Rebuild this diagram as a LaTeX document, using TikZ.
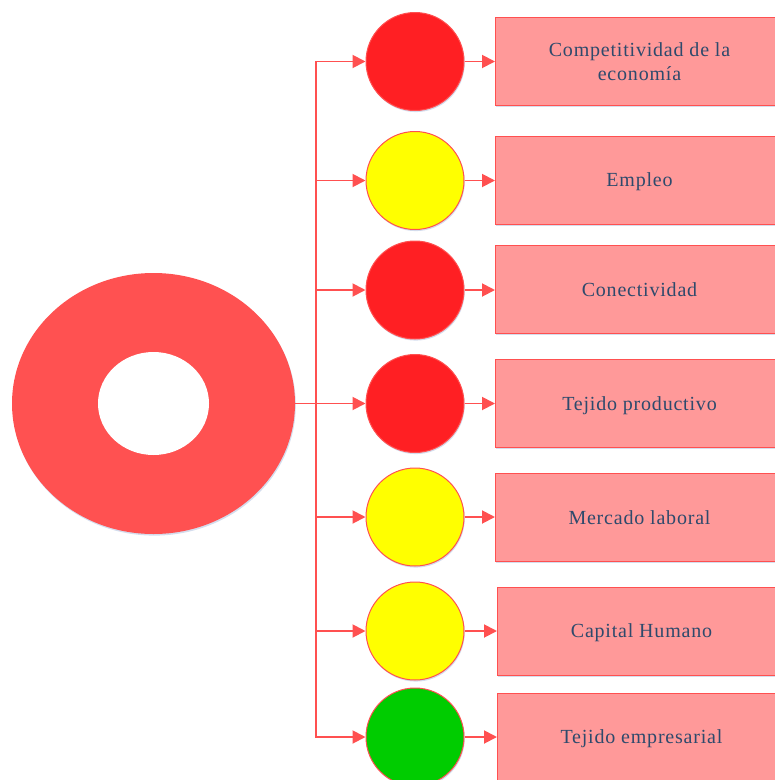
\documentclass[tikz,border=0pt]{standalone}
\usepackage{fontspec}
\setmainfont{Liberation Serif}[LetterSpace=4]
\usetikzlibrary{shapes.geometric,arrows.meta,shadows}
\definecolor{linered}{HTML}{FF5050}
\definecolor{donutred}{HTML}{FF5151}
\definecolor{boxfill}{HTML}{FF9999}
\definecolor{dotred}{HTML}{FF1F23}
\definecolor{dotyellow}{HTML}{FFFF00}
\definecolor{dotgreen}{HTML}{00CC00}
\definecolor{txt}{HTML}{2E4A6C}
\definecolor{shade}{HTML}{9FB4D8}
\tikzset{
  softshadow/.style={drop shadow={shadow xshift=0.8pt, shadow yshift=-1.6pt, fill=shade, opacity=0.45}},
  conn/.style={draw=linered, line width=1.9pt},
  arr/.style={conn, -{Triangle[length=13pt,width=13pt]}},
  dot/.style={circle, draw=linered, line width=1pt, minimum size=98pt, inner sep=0pt, softshadow},
  label box/.style={rectangle, draw=linered, line width=1pt, fill=boxfill, minimum width=288pt, minimum height=88pt, inner sep=0pt, text=txt, font=\fontsize{20}{24}\selectfont, align=center, anchor=west, text depth=0pt, softshadow}
}
\begin{document}
\begin{tikzpicture}[x=1pt,y=-1pt]
\useasboundingbox (0,0) rectangle (775,780);
\clip (0,0) rectangle (775,780);
% donut
\node[ellipse, fill=donutred, minimum width=283pt, minimum height=261pt, inner sep=0pt, softshadow] (donut) at (153.5,403.5) {};
\node[ellipse, fill=white, minimum width=111pt, minimum height=103pt, inner sep=0pt] (hole) at (153.5,403.5) {};
% trunk coordinates
\coordinate (t1) at (316,61.5);
\coordinate (t2) at (316,180.5);
\coordinate (t3) at (316,290);
\coordinate (t4) at (316,403.5);
\coordinate (t5) at (316,517);
\coordinate (t6) at (316,631);
\coordinate (t7) at (316,737);
% circles
\node[dot, fill=dotred] (c1) at (415,61.5) {};
\node[dot, fill=dotyellow] (c2) at (415,180.5) {};
\node[dot, fill=dotred] (c3) at (415,290) {};
\node[dot, fill=dotred] (c4) at (415,403.5) {};
\node[dot, fill=dotyellow] (c5) at (415,517) {};
\node[dot, fill=dotyellow] (c6) at (415,631) {};
\node[dot, fill=dotgreen] (c7) at (415,737) {};
% boxes
\node[label box] (b1) at (495,61.5) {Competitividad de la\\economía};
\node[label box] (b2) at (495,180) {Empleo};
\node[label box] (b3) at (495,289.5) {Conectividad};
\node[label box] (b4) at (495,403.5) {Tejido productivo};
\node[label box] (b5) at (495,517.5) {Mercado laboral};
\node[label box] (b6) at (497,631) {Capital Humano};
\node[label box] (b7) at (497,737) {Tejido empresarial};
% connectors
\draw[conn] (donut.east) -- (t4);
\draw[conn, line cap=rect] (t1) -- (t7);
\foreach \i in {1,...,7}{
  \draw[arr] (t\i) -- (c\i.west);
  \draw[arr] (c\i.east) -- (c\i.east -| b\i.west);
}
\end{tikzpicture}
\end{document}
